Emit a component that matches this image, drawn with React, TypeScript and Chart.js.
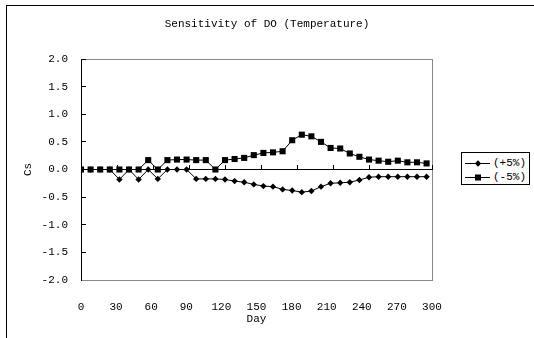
import React, { useEffect, useRef } from "react";
import { Chart, registerables } from "chart.js";

Chart.register(...registerables);

const days = [0, 8, 16, 24, 32, 40, 48, 56, 64, 72, 80, 88, 96, 104, 112, 120, 128, 136, 144, 152, 160, 168, 176, 184, 192, 200, 208, 216, 224, 232, 240, 248, 256, 264, 272, 280, 288];
const plus5 = [0, 0, 0, 0, -0.18, 0, -0.18, 0, -0.17, 0, 0, 0, -0.17, -0.17, -0.17, -0.18, -0.21, -0.23, -0.27, -0.30, -0.31, -0.36, -0.38, -0.41, -0.39, -0.31, -0.25, -0.24, -0.23, -0.19, -0.14, -0.13, -0.13, -0.13, -0.13, -0.13, -0.13];
const minus5 = [0, 0, 0, 0, 0, 0, 0, 0.17, 0, 0.17, 0.18, 0.18, 0.17, 0.17, 0, 0.17, 0.19, 0.21, 0.26, 0.30, 0.31, 0.33, 0.53, 0.63, 0.60, 0.50, 0.39, 0.38, 0.29, 0.23, 0.18, 0.16, 0.14, 0.16, 0.13, 0.13, 0.11];
const seriesNames = ["(+5%)", "(-5%)"];
const titleText = "Sensitivity of DO (Temperature)";
const xTitle = "Day";
const yTitle = "Cs";

const FONT = "'Liberation Mono', 'DejaVu Sans Mono', monospace";

const frameplugin = {
  id: "frame",
  beforeDraw(chart: any) {
    const { ctx, chartArea } = chart;
    ctx.save();
    ctx.strokeStyle = "#888";
    ctx.lineWidth = 1;
    ctx.strokeRect(Math.round(chartArea.left) + 0.5, Math.round(chartArea.top) + 0.5, Math.round(chartArea.right - chartArea.left), Math.round(chartArea.bottom - chartArea.top));
    ctx.restore();
  },
};

export default function App() {
  const ref = useRef<HTMLCanvasElement | null>(null);
  useEffect(() => {
    if (!ref.current) return;
    const chart = new Chart(ref.current, {
      type: "line",
      data: {
        datasets: [
          {
            label: seriesNames[0],
            data: days.map((d, i) => ({ x: d, y: plus5[i] })),
            xAxisID: "x",
            yAxisID: "y",
            borderColor: "#000",
            backgroundColor: "#000",
            borderWidth: 1,
            pointStyle: "rectRot",
            pointRadius: 3.2,
            pointBorderWidth: 0,
            pointBackgroundColor: "#000",
            tension: 0,
          },
          {
            label: seriesNames[1],
            data: days.map((d, i) => ({ x: d, y: minus5[i] })),
            xAxisID: "x",
            yAxisID: "y",
            borderColor: "#000",
            backgroundColor: "#000",
            borderWidth: 1,
            pointStyle: "rect",
            pointRadius: 4.3,
            pointBorderWidth: 0,
            pointBackgroundColor: "#000",
            tension: 0,
          },
        ],
      },
      options: {
        animation: false,
        responsive: false,
        maintainAspectRatio: false,
        layout: { padding: 0 },
        plugins: {
          legend: { display: false },
          tooltip: { enabled: false },
          title: {
            display: true,
            text: titleText,
            color: "#000",
            font: { family: FONT, size: 11, weight: "normal" },
            padding: { top: 17.4, bottom: 28.4 },
          },
        },
        scales: {
          x: {
            type: "linear",
            position: { y: 0 } as any,
            min: 0,
            max: 292.5,
            ticks: { display: false, stepSize: 30 },
            grid: { display: true, drawOnChartArea: false, drawTicks: true, tickLength: -5, color: "#000" },
            border: { display: true, color: "#000", width: 1 },
          },
          xb: {
            type: "linear",
            position: "bottom",
            min: 0,
            max: 300,
            ticks: {
              stepSize: 30,
              color: "#000",
              padding: 12,
              maxRotation: 0,
              font: { family: FONT, size: 11 },
            },
            grid: { display: false },
            border: { display: true, color: "#888" },
            title: {
              display: true,
              text: xTitle,
              color: "#000",
              font: { family: FONT, size: 11 },
              padding: { top: 0, bottom: 12.4 },
            },
            afterFit(scale: any) {
              scale.height = 58;
            },
          },
          y: {
            type: "linear",
            position: "left",
            min: -2,
            max: 2,
            ticks: {
              stepSize: 0.5,
              color: "#000",
              padding: 18,
              font: { family: FONT, size: 11 },
              callback: (v: any) => Number(v).toFixed(1),
            },
            grid: { display: true, drawOnChartArea: false, drawTicks: true, tickLength: -5, color: "#000" },
            border: { display: true, color: "#000", width: 1 },
            title: {
              display: true,
              text: yTitle,
              color: "#000",
              font: { family: FONT, size: 11 },
              padding: { top: 21.4, bottom: 0 },
            },
            afterFit(scale: any) {
              scale.width = 81;
            },
          },
          yr: {
            type: "linear",
            position: "right",
            min: -2,
            max: 2,
            ticks: { display: false },
            grid: { display: false },
            border: { display: false },
            afterFit(scale: any) {
              scale.width = 102;
            },
          },
        },
      },
      plugins: [frameplugin],
    } as any);
    return () => chart.destroy();
  }, []);

  const legendRow = (i: number, top: number) => (
    <div key={i} style={{ position: "absolute", left: 464, top: top - 7, height: 14, width: 66 }}>
      <svg width={27} height={14} style={{ position: "absolute", left: 0, top: 0 }}>
        <line x1={1} y1={7.5} x2={26} y2={7.5} stroke="#000" strokeWidth={1} />
        {i === 0 ? (
          <polygon points="14,4.3 17.2,7.5 14,10.7 10.8,7.5" fill="#000" />
        ) : (
          <rect x={11} y={4.5} width={6} height={6} fill="#000" />
        )}
      </svg>
      <span
        style={{
          position: "absolute",
          left: 29,
          top: 0,
          fontFamily: FONT,
          fontSize: 11,
          lineHeight: "14px",
          color: "#000",
          whiteSpace: "nowrap",
        }}
      >
        {seriesNames[i]}
      </span>
    </div>
  );

  return (
    <div style={{ position: "fixed", left: 0, top: 0, width: 534, height: 338, overflow: "hidden", background: "#fff" }}>
      <div style={{ position: "absolute", left: 6, top: 5, width: 700, height: 500, border: "1px solid #000", boxSizing: "border-box" }} />
      <canvas ref={ref} width={534} height={338} style={{ position: "absolute", left: 0, top: 0, width: 534, height: 338 }} />
      <div style={{ position: "absolute", left: 461, top: 152, width: 69, height: 33, border: "1px solid #000", boxSizing: "border-box", background: "#fff" }} />
      {legendRow(0, 162.5)}
      {legendRow(1, 176.5)}
    </div>
  );
}
